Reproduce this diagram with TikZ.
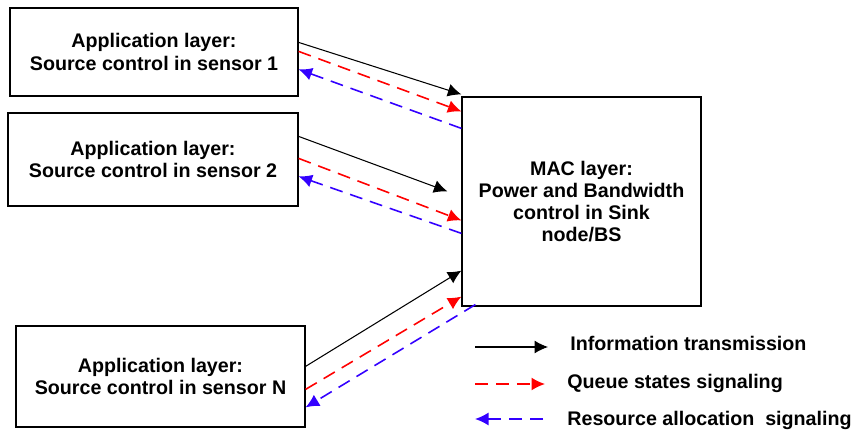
\documentclass[tikz,border=0pt]{standalone}
\usepackage{fontspec}
\setmainfont{Liberation Sans}
\usepackage{tikz}
\usetikzlibrary{arrows.meta}
\definecolor{sigred}{RGB}{255,0,0}
\definecolor{sigblue}{RGB}{51,0,255}
\tikzset{
  layerbox/.style={draw, line width=0.7pt, inner sep=0pt, align=center,
    font=\fontsize{11.2}{12.6}\selectfont\bfseries},
  legtext/.style={anchor=west, inner sep=0pt, font=\fontsize{11.2}{12.6}\selectfont\bfseries},
  info/.style={-{Latex[length=0.27cm,width=0.26cm]}, line width=0.6pt},
  queue/.style={-{Latex[length=0.27cm,width=0.26cm]}, line width=0.9pt, color=sigred,
    dash pattern=on 0.26cm off 0.16cm},
  resource/.style={-{Latex[length=0.27cm,width=0.26cm]}, line width=0.9pt, color=sigblue,
    dash pattern=on 0.26cm off 0.16cm}
}
\begin{document}
\begin{tikzpicture}[x=0.02cm, y=-0.02cm]
        \useasboundingbox (0,0) rectangle (855,432);
        % sensor boxes
        \node[layerbox, minimum width=5.76cm, minimum height=1.76cm] (app1) at (154,52)
          {Application layer:\\Source control in sensor 1};
        \node[layerbox, minimum width=5.8cm, minimum height=1.86cm] (app2) at (153,159.5)
          {Application layer:\\Source control in sensor 2};
        \node[layerbox, minimum width=5.78cm, minimum height=2.02cm] (appN) at (160.5,376.5)
          {Application layer:\\Source control in sensor N};
        % sink
        \node[layerbox, minimum width=4.78cm, minimum height=4.18cm] (mac) at (581.5,201.5)
          {MAC layer:\\Power and Bandwidth\\control in Sink\\node/BS};
        % sensor 1
        \draw[info] ([yshift=-0.70cm]app1.north east) -- ([yshift=0.04cm]mac.north west);
        \draw[queue] ([yshift=-0.88cm]app1.north east) -- ([yshift=-0.30cm]mac.north west);
        \draw[resource] ([yshift=-0.64cm]mac.north west) -- ([yshift=-1.24cm]app1.north east);
        % sensor 2
        \coordinate (stop2) at ([xshift=-0.28cm,yshift=-1.90cm]mac.north west);
        \draw[info] ([yshift=-0.48cm]app2.north east) -- (stop2);
        \draw[queue] ([yshift=-0.92cm]app2.north east) -- ([yshift=-2.48cm]mac.north west);
        \draw[resource] ([yshift=-2.74cm]mac.north west) -- ([yshift=-1.28cm]app2.north east);
        % sensor N
        \draw[info] ([yshift=-0.82cm]appN.north east) -- ([yshift=0.72cm]mac.south west);
        \draw[queue] ([yshift=-1.28cm]appN.north east) -- ([yshift=0.20cm]mac.south west);
        \draw[resource] ([xshift=0.28cm,yshift=0.04cm]mac.south west) -- ([yshift=-1.64cm]appN.north east);
        % legend
        \node[legtext] (leg1) at (570,343) {Information transmission};
        \node[legtext] (leg2) at (567,383) {Queue states signaling};
        \node[legtext] (leg3) at (567,420) {Resource allocation \ signaling};
        \coordinate (l1a) at (475,347); \coordinate (l1b) at (548,347);
        \coordinate (l2a) at (475,384); \coordinate (l2b) at (545,384);
        \coordinate (l3a) at (543,419); \coordinate (l3b) at (475,419);
        \draw[info] (l1a) -- (l1b);
        \draw[queue] (l2a) -- (l2b);
        \draw[resource] (l3a) -- (l3b);
\end{tikzpicture}
\end{document}
